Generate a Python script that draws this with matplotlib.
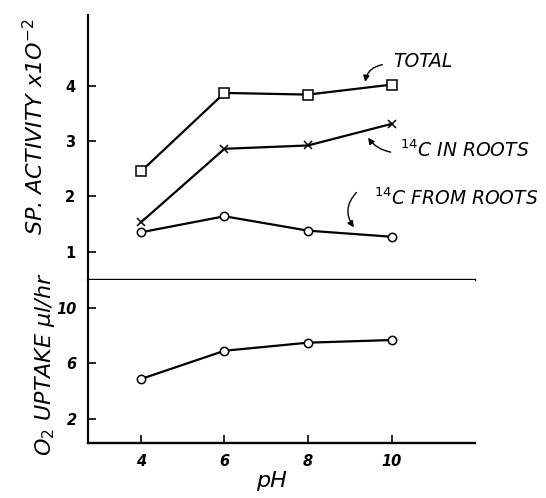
import matplotlib
matplotlib.use("Agg")
import matplotlib.pyplot as plt

# values
ph = [4, 6, 8, 10]
total = [2.45, 3.87, 3.84, 4.02]
c14_in_roots = [1.53, 2.86, 2.92, 3.31]
c14_from_roots = [1.35, 1.64, 1.38, 1.27]
o2_uptake = [4.88, 6.91, 7.49, 7.68]

top_ticks = [1, 2, 3, 4]
bottom_ticks = [2, 6, 10]
ph_ticks = [4, 6, 8, 10]

plt.rcParams["font.family"] = "DejaVu Sans"

fig = plt.figure(figsize=(5.46, 4.98), dpi=100)
ax1 = fig.add_axes([0.161, 0.438, 0.709, 0.532])
ax2 = fig.add_axes([0.161, 0.110, 0.709, 0.328])

line_kw = dict(color="black", lw=1.6, mfc="white", mec="black", mew=1.1)
ax1.plot(ph, total, marker="s", ms=7, **line_kw)
ax1.plot(ph, c14_in_roots, marker="x", ms=6, **line_kw)
ax1.plot(ph, c14_from_roots, marker="o", ms=6, **line_kw)
ax2.plot(ph, o2_uptake, marker="o", ms=6, **line_kw)

for ax in (ax1, ax2):
    ax.set_xlim(2.73, 12.0)
    for s in ("top", "right"):
        ax.spines[s].set_visible(False)
    ax.spines["left"].set_linewidth(1.5)
    ax.spines["bottom"].set_linewidth(1.7)
    ax.tick_params(direction="in", length=6, width=1.2, labelsize=10.5)

ax1.set_ylim(0.49, 5.28)
ax1.set_yticks(top_ticks)
ax1.set_yticklabels([str(t) for t in top_ticks], fontweight="bold")
ax1.set_xticks([])
ax1.tick_params(axis="y", pad=9)

ax2.set_ylim(0.27, 12.0)
ax2.set_yticks(bottom_ticks)
ax2.set_yticklabels([str(t) for t in bottom_ticks], fontweight="bold", style="italic")
ax2.set_xticks(ph_ticks)
ax2.set_xticklabels([str(t) for t in ph_ticks], fontweight="bold", style="italic")
ax2.tick_params(axis="y", pad=8)
ax2.tick_params(axis="x", pad=8)

fig.text(0.064, 0.745, r"SP. ACTIVITY x1O$^{-2}$", rotation=90, ha="center",
         va="center", fontsize=16, style="italic")
fig.text(0.082, 0.268, r"O$_2$ UPTAKE $\mu$l/hr", rotation=90, ha="center",
         va="center", fontsize=16, style="italic")
fig.text(0.497, 0.035, "pH", ha="center", va="center", fontsize=16, style="italic")

txt_kw = dict(fontsize=13.5, style="italic", ha="center", va="center")
arrow_kw = dict(arrowstyle="-|>", color="black", lw=1, shrinkA=0, shrinkB=0,
                mutation_scale=9)

ax1.text(10.75, 4.43, "TOTAL", **txt_kw)
ax1.annotate("", xy=(9.37, 4.07), xytext=(9.78, 4.38),
             arrowprops=dict(connectionstyle="arc3,rad=0.35", **arrow_kw))

ax1.text(11.75, 2.83, r"$^{14}$C IN ROOTS", **txt_kw)
ax1.annotate("", xy=(9.44, 3.06), xytext=(9.98, 2.80),
             arrowprops=dict(connectionstyle="arc3,rad=-0.2", **arrow_kw))

ax1.text(11.55, 1.96, r"$^{14}$C FROM ROOTS", **txt_kw)
ax1.annotate("", xy=(9.1, 1.44), xytext=(9.16, 2.07),
             arrowprops=dict(connectionstyle="arc3,rad=0.4", **arrow_kw))

fig.savefig("out.png", dpi=100)
